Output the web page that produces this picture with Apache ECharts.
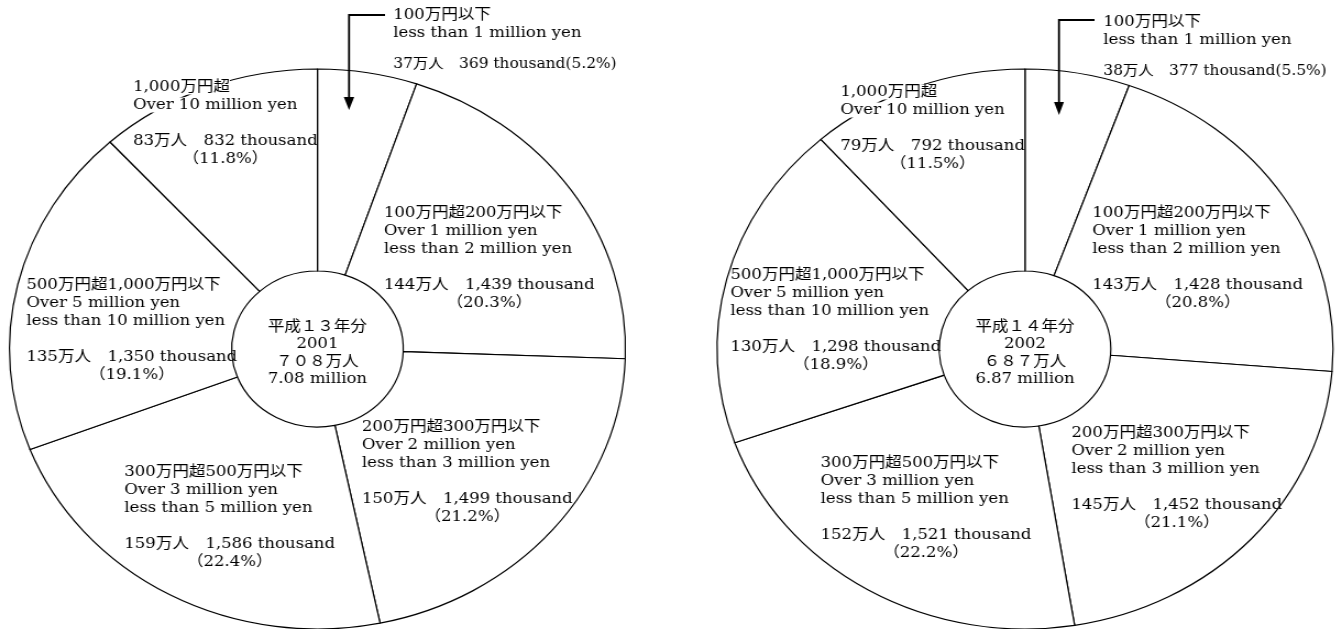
<!DOCTYPE html>
<html>
<head>
<meta charset="utf-8">
<script src="https://cdn.jsdelivr.net/npm/echarts@6/dist/echarts.min.js"></script>
<style>
  html, body { margin: 0; padding: 0; background: #fff; overflow: hidden; }
  /* the source figure is stretched a bit horizontally */
  #main { width: 1216px; height: 629px; transform: scaleX(1.1); transform-origin: 0 0; }
</style>
</head>
<body>
<div id="main"></div>
<script>
// 給与階級別の給与所得者数
const categoriesJa = ['100万円以下', '100万円超200万円以下', '200万円超300万円以下', '300万円超500万円以下', '500万円超1,000万円以下', '1,000万円超'];
const categoriesEn = [
  ['less than 1 million yen'],
  ['Over 1 million yen', 'less than 2 million yen'],
  ['Over 2 million yen', 'less than 3 million yen'],
  ['Over 3 million yen', 'less than 5 million yen'],
  ['Over 5 million yen', 'less than 10 million yen'],
  ['Over 10 million yen']
];
const yearsJa = ['平成１３年分', '平成１４年分'];
const yearsAD = ['2001', '2002'];
const totalMan = ['７０８', '６８７'];
const totalMillion = ['7.08', '6.87'];

const thousand2001 = [369, 1439, 1499, 1586, 1350, 832];
const man2001 = [37, 144, 150, 159, 135, 83];
const pct2001 = ['5.2', '20.3', '21.2', '22.4', '19.1', '11.8'];

const thousand2002 = [377, 1428, 1452, 1521, 1298, 792];
const man2002 = [38, 143, 145, 152, 130, 79];
const pct2002 = ['5.5', '20.8', '21.1', '22.2', '18.9', '11.5'];

const thousands = [thousand2001, thousand2002];
const mans = [man2001, man2002];
const pcts = [pct2001, pct2002];

// layout (chart space, before the horizontal stretch)
const centers = [[288.6, 349], [931.8, 349]];
const labelPos = [
  [[357.5, 6], [349, 204], [329, 418], [113, 463], [24, 276], [121, 78]],
  [[1003, 13], [993, 204], [974, 424], [746, 454], [664, 266], [764, 83]]
];
const arrows = [
  { line: [[350, 15], [317.3, 15], [317.3, 99]], head: [[312.5, 97], [322, 97], [317.3, 110]] },
  { line: [[995, 20], [962.7, 20], [962.7, 104]], head: [[958.2, 102], [967.2, 102], [962.7, 115]] }
];

const font = "'DejaVu Serif', 'Noto Sans CJK JP', serif";
const black = '#000';

function fmt(n) {
  return n.toLocaleString('en-US');
}

function labelText(k, i) {
  const s = i === 5 ? 'w' : 't'; // white backing where the text crosses the rim
  const lines = ['{' + s + '|' + categoriesJa[i] + '}'];
  categoriesEn[i].forEach(function (e) { lines.push('{' + s + '|' + e + '}'); });
  const val = mans[k][i] + '万人　' + fmt(thousands[k][i]) + ' thousand';
  if (i === 0) {
    lines.push('{g| }');
    lines.push('{s|' + val + '(' + pcts[k][i] + '%)}');
  } else {
    lines.push('{t| }');
    lines.push('{t|' + val + '}');
    lines.push('{p|（' + pcts[k][i] + '%）}');
  }
  return lines.join('\n');
}

const rich = {
  t: { fontFamily: font, fontSize: 15, lineHeight: 18, color: black },
  s: { fontFamily: font, fontSize: 14, lineHeight: 18, color: black },
  w: { fontFamily: font, fontSize: 15, lineHeight: 18, color: black, backgroundColor: '#fff' },
  p: { fontFamily: font, fontSize: 15, lineHeight: 18, color: black, align: 'center' },
  g: { fontFamily: font, fontSize: 15, lineHeight: 13, color: black }
};

const series = [0, 1].map(function (k) {
  return {
    type: 'pie',
    center: centers[k],
    radius: [78, 280],
    startAngle: 90,
    clockwise: true,
    silent: true,
    animation: false,
    itemStyle: { color: '#fff', borderColor: black, borderWidth: 1.2 },
    emphasis: { disabled: true },
    label: {
      show: true,
      position: 'inside',
      formatter: function (p) { return labelText(k, p.dataIndex); },
      rich: rich
    },
    labelLine: { show: false },
    labelLayout: function (p) {
      const pos = labelPos[k][p.dataIndex];
      return { x: pos[0], y: pos[1], align: 'left', verticalAlign: 'top' };
    },
    data: categoriesJa.map(function (name, i) {
      return { name: name, value: thousands[k][i] };
    })
  };
});

const graphic = [];
[0, 1].forEach(function (k) {
  graphic.push({
    type: 'text',
    z: 100,
    x: centers[k][0],
    y: centers[k][1] + 4,
    style: {
      text: [yearsJa[k], yearsAD[k], totalMan[k] + '万人', totalMillion[k] + ' million'].join('\n'),
      align: 'center',
      verticalAlign: 'middle',
      font: '15px ' + font,
      lineHeight: 17.5,
      fill: black
    }
  });
  graphic.push({
    type: 'polyline',
    z: 100,
    shape: { points: arrows[k].line },
    style: { stroke: black, lineWidth: 1.8, fill: null }
  });
  graphic.push({
    type: 'polygon',
    z: 100,
    shape: { points: arrows[k].head },
    style: { fill: black }
  });
});

const chart = echarts.init(document.getElementById('main'));
chart.setOption({
  backgroundColor: '#fff',
  animation: false,
  series: series,
  graphic: graphic
});
</script>
</body>
</html>
